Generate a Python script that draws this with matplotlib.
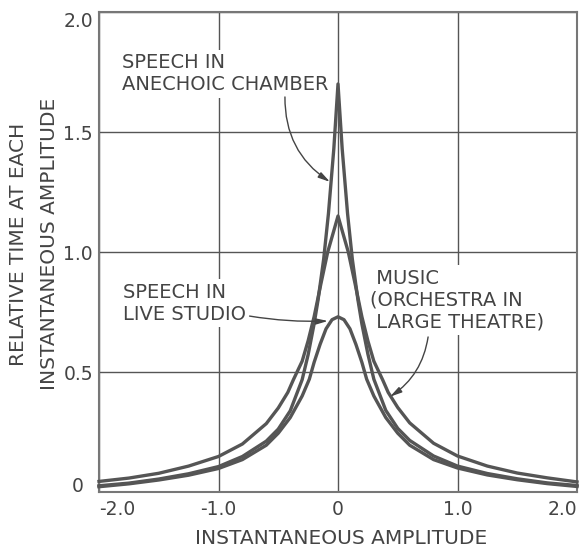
import matplotlib.pyplot as plt

# values (relative time vs instantaneous amplitude)
anechoic_x = [-2.0, -1.75, -1.5, -1.25, -1.0, -0.8, -0.6, -0.5, -0.4, -0.3, -0.25, -0.2, -0.167,
              -0.12, -0.08, -0.035, 0.0, 0.035, 0.08, 0.12, 0.167, 0.2, 0.25, 0.3, 0.4, 0.5,
              0.6, 0.8, 1.0, 1.25, 1.5, 1.75, 2.0]
anechoic_y = [0.026, 0.037, 0.054, 0.076, 0.106, 0.148, 0.212, 0.262, 0.338, 0.468, 0.572, 0.70, 0.80,
              0.97, 1.16, 1.43, 1.70, 1.43, 1.16, 0.97, 0.80, 0.70, 0.575, 0.47, 0.34, 0.265,
              0.215, 0.15, 0.108, 0.077, 0.055, 0.038, 0.027]

music_x = [-2.0, -1.75, -1.5, -1.25, -1.0, -0.8, -0.6, -0.5, -0.42, -0.374, -0.3, -0.25, -0.2,
           -0.142, -0.086, -0.04, 0.0, 0.04, 0.086, 0.142, 0.2, 0.25, 0.3, 0.374, 0.42, 0.5,
           0.6, 0.8, 1.0, 1.25, 1.5, 1.75, 2.0]
music_y = [0.044, 0.058, 0.078, 0.108, 0.148, 0.20, 0.285, 0.35, 0.415, 0.467, 0.545, 0.63, 0.73,
           0.87, 1.00, 1.08, 1.15, 1.08, 1.00, 0.87, 0.73, 0.63, 0.545, 0.467, 0.415, 0.352,
           0.288, 0.203, 0.150, 0.108, 0.079, 0.059, 0.042]

live_x = [-2.0, -1.75, -1.5, -1.25, -1.0, -0.8, -0.6, -0.5, -0.4, -0.3, -0.24, -0.2, -0.15, -0.1,
          -0.05, 0.0, 0.05, 0.1, 0.15, 0.2, 0.24, 0.3, 0.4, 0.5, 0.6, 0.8, 1.0, 1.25, 1.5, 1.75, 2.0]
live_y = [0.022, 0.034, 0.05, 0.07, 0.098, 0.135, 0.195, 0.245, 0.31, 0.40, 0.47, 0.54, 0.615, 0.68,
          0.718, 0.73, 0.718, 0.68, 0.615, 0.54, 0.47, 0.40, 0.31, 0.245, 0.195, 0.135, 0.10,
          0.071, 0.051, 0.035, 0.023]

xticks = [-2.0, -1.0, 0.0, 1.0, 2.0]
xtick_labels = ["-2.0", "-1.0", "0", "1.0", "2.0"]
yticks = [0.0, 0.5, 1.0, 1.5, 2.0]
ytick_labels = ["0", "0.5", "1.0", "1.5", "2.0"]

ink = "#444444"
curve_col = "#555555"

fig, ax = plt.subplots(figsize=(5.82, 5.5), dpi=100)
fig.subplots_adjust(left=99/582, right=577/582, bottom=1-492/550, top=1-12/550)

ax.set_xlim(-2, 2)
ax.set_ylim(0, 2)
ax.set_xticks(xticks)
ax.set_xticklabels(xtick_labels)
ax.set_yticks(yticks)
ax.set_yticklabels(ytick_labels)
ax.grid(True, color="#555555", lw=1.0)
ax.set_axisbelow(True)
for s in ax.spines.values():
    s.set_color("#777777")
    s.set_linewidth(1.5)
ax.tick_params(axis="x", length=0, pad=6, labelsize=13.5, labelcolor=ink)
ax.tick_params(axis="y", length=0, pad=15, labelsize=13.5, labelcolor=ink)
for lab in ax.get_yticklabels():
    lab.set_ha("center")
ax.get_yticklabels()[0].set_va("baseline")
ax.get_yticklabels()[-1].set_va("top")
ax.get_xticklabels()[0].set_ha("left")
ax.get_xticklabels()[-1].set_ha("right")

for xs, ys in [(anechoic_x, anechoic_y), (music_x, music_y), (live_x, live_y)]:
    ax.plot(xs, ys, color=curve_col, lw=2.4, solid_joinstyle="round", zorder=5, clip_on=False)

# labels with white boxes so the grid is broken behind them
box = dict(facecolor="white", edgecolor="none", pad=2.5)
ax.text(-1.808, 1.742, "SPEECH IN\nANECHOIC CHAMBER", ha="left", va="center",
        fontsize=14, color=ink, bbox=box, zorder=3)
ax.text(-1.80, 0.7875, "SPEECH IN\nLIVE STUDIO", ha="left", va="center",
        fontsize=14, color=ink, bbox=box, zorder=3)
ax.text(0.268, 0.80, " MUSIC\n(ORCHESTRA IN\n LARGE THEATRE)", ha="left", va="center",
        fontsize=14, color=ink, bbox=box, zorder=3)

arrow = dict(arrowstyle="-|>,head_length=0.7,head_width=0.18", color=ink, lw=1.0,
             shrinkA=0, shrinkB=0)
ax.annotate("", xy=(-0.067, 1.292), xytext=(-0.444, 1.646),
            arrowprops=dict(arrow, connectionstyle="arc3,rad=0.27"), zorder=6)
ax.annotate("", xy=(0.435, 0.397), xytext=(0.754, 0.646),
            arrowprops=dict(arrow, connectionstyle="arc3,rad=-0.22"), zorder=6)
ax.annotate("", xy=(-0.084, 0.7125), xytext=(-0.74, 0.733),
            arrowprops=dict(arrow, connectionstyle="arc3,rad=0.05"), zorder=6)

fig.text(341/582, 1-538/550, "INSTANTANEOUS AMPLITUDE", ha="center", va="center",
         fontsize=14.5, color=ink)
fig.text(19/582, 0.556, "RELATIVE TIME AT EACH", ha="center", va="center",
         rotation=90, fontsize=14.5, color=ink)
fig.text(49.5/582, 0.556, "INSTANTANEOUS AMPLITUDE", ha="center", va="center",
         rotation=90, fontsize=14.5, color=ink)

fig.savefig("out.png", dpi=100)
